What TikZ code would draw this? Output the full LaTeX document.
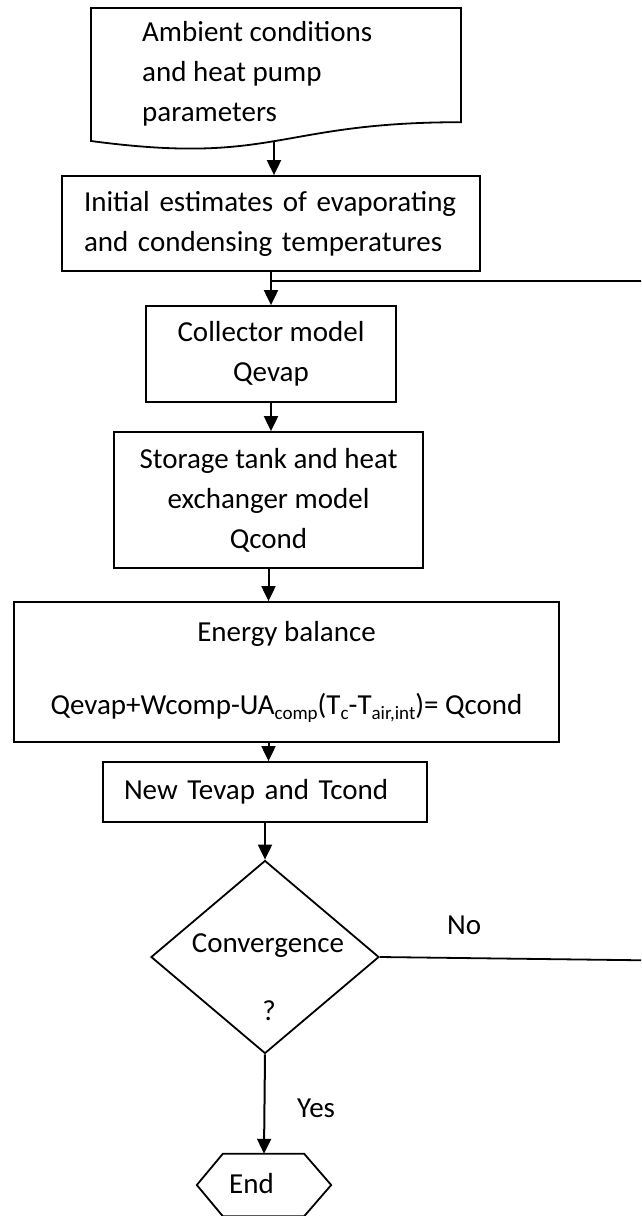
\documentclass[tikz,border=0pt]{standalone}
\usepackage{fontspec}
\setmainfont{Carlito}
\usetikzlibrary{arrows.meta,shapes.geometric,calc}
\newcommand\lowtxt[1]{\raisebox{-5pt}{\fontsize{19}{19}\selectfont #1}}
\tikzset{
  txt/.style={font=\fontsize{29}{40}\selectfont, inner sep=0pt},
  stepbox/.style={txt, draw, line width=1.8pt, rectangle},
  link/.style={line width=2pt, -{Triangle[length=15pt,width=14pt]}},
  plainlink/.style={line width=1.8pt},
}
\begin{document}
\begin{tikzpicture}[x=1pt,y=-1pt]
\useasboundingbox (0,0) rectangle (641,1216);
\clip (0,0) rectangle (641,1216);
\fill[white] (0,0) rectangle (641,1216);

% document shape
\draw[line width=1.8pt, line join=miter] (91,8) -- (461,8) -- (461,122.2)
   .. controls (276,122.2) and (276,165.7) .. (91,141) -- cycle;
\node[txt, anchor=north west, align=left] (doc) at (142,21.5)
   {Ambient conditions\\and heat pump\\parameters};
\coordinate (docb) at (274,141);

\node[stepbox, minimum width=418pt, minimum height=95pt, inner xsep=22pt,
      text width=374pt, align=left] (box2) at (271,223.5)
   {Initial estimates of evaporating\\and condensing temperatures};
\node[stepbox, minimum width=250pt, minimum height=96pt, align=center] (box3) at (271,354)
   {Collector model\\Qevap};
\node[stepbox, minimum width=309pt, minimum height=136pt, align=center] (box4) at (268.5,500)
   {Storage tank and heat\\exchanger model\\Qcond};
\node[stepbox, minimum width=545pt, minimum height=140pt, align=center] (box5) at (286.5,672)
   {Energy balance\\[33pt]Qevap+Wcomp-UA\lowtxt{comp}(T\lowtxt{c}-T\lowtxt{air,int})= Qcond};
\node[stepbox, minimum width=324pt, minimum height=60pt, inner xsep=21pt,
      text width=282pt, align=left] (box6) at (265,792)
   {New Tevap and Tcond};
\node[diamond, draw, line width=1.8pt, minimum width=228pt, minimum height=193pt,
      inner sep=0pt] (conv) at (265,957) {};
\node[txt, anchor=base] (convt1) at (268,952) {Convergence};
\node[txt, anchor=base] (convt2) at (269,1020) {?};

\node[txt, minimum width=134pt, minimum height=62pt] (endn) at (264,1185) {};
\draw[line width=1.8pt] (endn.west) -- ($(endn.north west)+(26,0)$) -- ($(endn.north east)+(-27,0)$)
   -- (endn.east) -- ($(endn.south east)+(-27,0)$) -- ($(endn.south west)+(26,0)$) -- cycle;
\node[txt, anchor=base west] (endt) at (229,1193) {End};

\node[txt, anchor=base west] (nolab) at (447,934) {No};
\node[txt, anchor=base west] (yeslab) at (297,1117) {Yes};

% connectors
\coordinate (fb) at (272,281);
\draw[link] (docb) -- (docb |- box2.north);
\draw[link] (box2.south) -- (box3.north);
\draw[link] (box3.south) -- (box3.south |- box4.north);
\draw[link] (box4.south) -- (box4.south |- box5.north);
\draw[link] (box4.south |- box5.south) -- (box4.south |- box6.north);
\draw[link] (box6.south) -- (conv.north);
\draw[link] (conv.south) -- (endn.north);
\draw[plainlink] (conv.east) -- (700,961) |- (fb);
\end{tikzpicture}
\end{document}
